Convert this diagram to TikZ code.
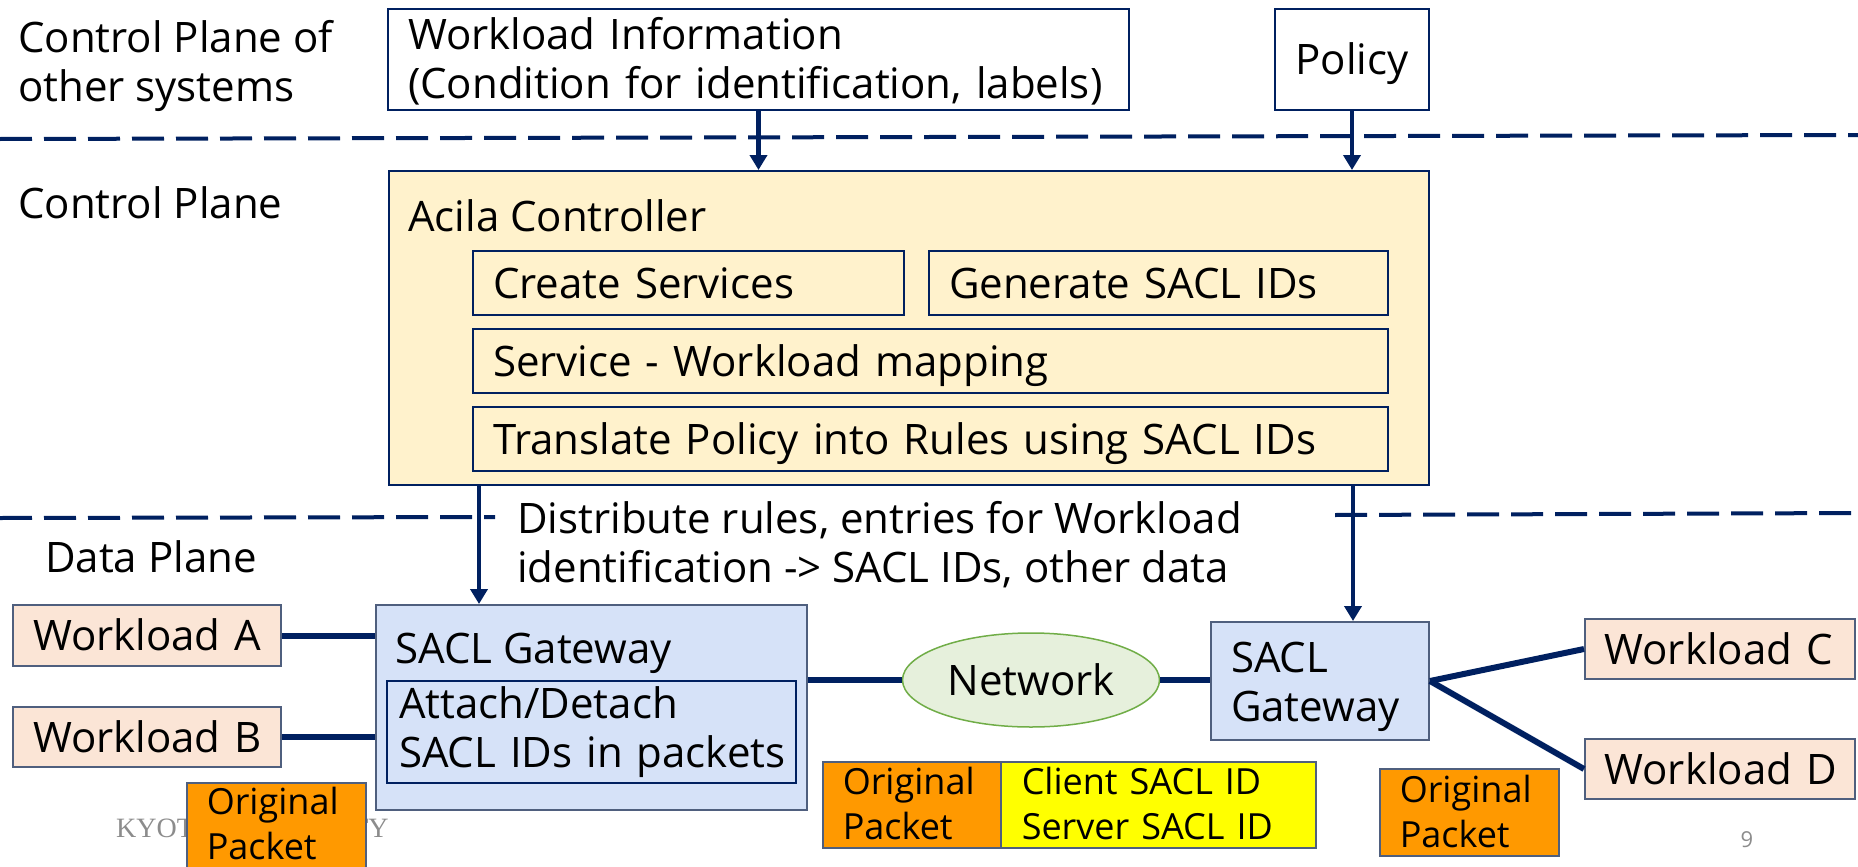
\documentclass[tikz,border=0pt]{standalone}
\usepackage{fontspec}
\setmainfont{Open Sans}
\newfontfamily\footserif{Liberation Serif}
\usetikzlibrary{arrows.meta,shapes.geometric,calc}

\definecolor{navy}{HTML}{002060}
\definecolor{edgegray}{HTML}{4F5F7E}
\definecolor{peach}{HTML}{FBE5D6}
\definecolor{paleblue}{HTML}{D6E2F8}
\definecolor{cream}{HTML}{FFF2CC}
\definecolor{mint}{HTML}{E6F0DC}
\definecolor{leaf}{HTML}{70AD47}
\definecolor{amber}{HTML}{FF9900}
\definecolor{lemon}{HTML}{FFFF00}
\definecolor{footgray}{HTML}{8C8C8C}

\tikzset{
  big/.style={font=\fontsize{42}{49}\selectfont},
  small/.style={font=\fontsize{36}{45}\selectfont},
  txt/.style={big, inner sep=0pt, align=left},
  box/.style={rectangle, draw=navy, line width=2pt, inner ysep=0pt, big, anchor=north west},
  oneline/.style={text height=30pt, text depth=0pt},
  wlbox/.style={box, draw=edgegray, fill=peach, oneline, align=left},
  gwbox/.style={box, draw=edgegray, fill=paleblue},
  pkt/.style={box, draw=edgegray, line width=1.5pt, small, align=left},
  conn/.style={draw=navy, line width=6pt},
  arr/.style={draw=navy, line width=4.5pt, -{Triangle[length=15pt,width=17pt]}},
  sep/.style={draw=navy, line width=4pt, dash pattern=on 32pt off 12pt},
}

\begin{document}
\begin{tikzpicture}[x=1pt, y=-1pt]
\useasboundingbox (0,0) rectangle (1858,867);

% plane separators
\draw[sep] (0,139) -- (1858,135);
\draw[sep] (0,518) -- (495,517);
\draw[sep] (1335,515) -- (1858,513);

% plane labels (multi-line labels are anchored on their last line)
\node[txt, anchor=base west] (cpo) at (18,102) {Control Plane of\\other systems};
\node[txt, anchor=base west] (cp) at (18,218) {Control Plane};
\node[txt, anchor=base west] (dp) at (45,572) {Data Plane};

% inputs from other systems
\node[box, minimum width=741pt, minimum height=101pt, text width=701pt, inner xsep=20pt, align=left, text height=35pt]
  (wi) at (387,8) {Workload Information\\(Condition for identification, labels)};
\node[box, minimum width=154pt, minimum height=101pt, oneline, inner xsep=0pt]
  (policy) at (1274,8) {Policy};

% controller
\node[box, fill=cream, minimum width=1040pt, minimum height=314pt] (ctrl) at (388,170) {};
\node[txt, anchor=base west] (ctrlT) at (408,231) {Acila Controller};
\node[box, minimum width=431pt, minimum height=64pt, text width=391pt, inner xsep=20pt, oneline, align=left]
  (cs) at (472,250) {Create Services};
\node[box, minimum width=459pt, minimum height=64pt, text width=419pt, inner xsep=20pt, oneline, align=left]
  (gs) at (928,250) {Generate SACL IDs};
\node[box, minimum width=915pt, minimum height=64pt, text width=875pt, inner xsep=20pt, oneline, align=left]
  (swm) at (472,328) {Service - Workload mapping};
\node[box, minimum width=915pt, minimum height=64pt, text width=875pt, inner xsep=20pt, oneline, align=left]
  (tp) at (472,406) {Translate Policy into Rules using SACL IDs};

\node[txt, anchor=base west] (dist) at (517,582) {Distribute rules, entries for Workload\\identification -> SACL IDs, other data};

% footer
\node[font=\footserif\fontsize{28}{30}\selectfont, text=footgray, inner sep=0pt, anchor=base west]
  (foot) at (116,837) {KYOTO UNIVERSITY};
\node[font=\fontsize{22}{24}\selectfont, text=footgray, inner sep=0pt] (pg) at (1747,840) {9};

% data plane
\node[wlbox, minimum width=268pt, minimum height=61pt, text width=228pt, inner xsep=20pt] (wa) at (12,604) {\mbox{Workload A}};
\node[wlbox, minimum width=268pt, minimum height=60pt, text width=228pt, inner xsep=20pt] (wb) at (12,706) {\mbox{Workload B}};

\node[gwbox, minimum width=431pt, minimum height=205pt] (gwL) at (375,604) {};
\node[txt, anchor=base west] (gwLT) at (395,663) {SACL Gateway};
\node[box, fill=paleblue, minimum width=409pt, minimum height=102pt, text width=385pt, inner xsep=12pt, align=left]
  (ad) at (386,680) {Attach/Detach\\\mbox{SACL IDs in packets}};

\node[ellipse, draw=leaf, line width=1.5pt, fill=mint, minimum width=257pt, minimum height=94pt, inner sep=0pt, big]
  (net) at (1031,680) {Network};

\node[gwbox, minimum width=218pt, minimum height=118pt, text width=178pt, inner xsep=20pt, align=left, text height=43pt]
  (gwR) at (1210,621) {SACL\\Gateway};

\node[wlbox, minimum width=270pt, minimum height=60pt, text width=231pt, inner xsep=19pt] (wc) at (1584,618) {\mbox{Workload C}};
\node[wlbox, minimum width=270pt, minimum height=60pt, text width=231pt, inner xsep=19pt] (wd) at (1584,738) {\mbox{Workload D}};

% packets
\node[pkt, fill=amber, minimum width=179pt, text width=139pt, inner xsep=20pt, inner ysep=4pt, text depth=80pt]
  (pktL) at (186,782) {Original\\Packet};
\node[pkt, fill=amber, minimum width=178pt, minimum height=86pt, text width=138pt, inner xsep=20pt, text height=24pt]
  (pktO) at (822,761) {Original\\Packet};
\node[pkt, fill=lemon, minimum width=315pt, minimum height=86pt, text width=273pt, inner xsep=21pt, text height=24pt]
  (pktY) at (1000,761) {Client SACL ID\\Server SACL ID};
\node[pkt, fill=amber, minimum width=179pt, minimum height=87pt, text width=139pt, inner xsep=20pt, text height=25pt]
  (pktR) at (1379,768) {Original\\Packet};

% links
\draw[conn] (wa.east) -- (wa.east -| gwL.west);
\draw[conn] (wb.east) -- (wb.east -| gwL.west);
\draw[conn] (gwL.east |- net.west) -- (net.west);
\draw[conn] (net.east) -- (net.east -| gwR.west);
\draw[conn] (gwR.east) -- (wc.west);
\draw[conn] (gwR.east) -- (wd.west);

% control flow
\draw[arr] (wi.south) -- (wi.south |- ctrl.north);
\draw[arr] (policy.south) -- (policy.south |- ctrl.north);
\coordinate (dl) at ($(ctrl.south west)+(91,0)$);
\coordinate (dr) at ($(ctrl.south east)+(-77,0)$);
\draw[arr] (dl) -- (dl |- gwL.north);
\draw[arr] (dr) -- (dr |- gwR.north);
\end{tikzpicture}
\end{document}
